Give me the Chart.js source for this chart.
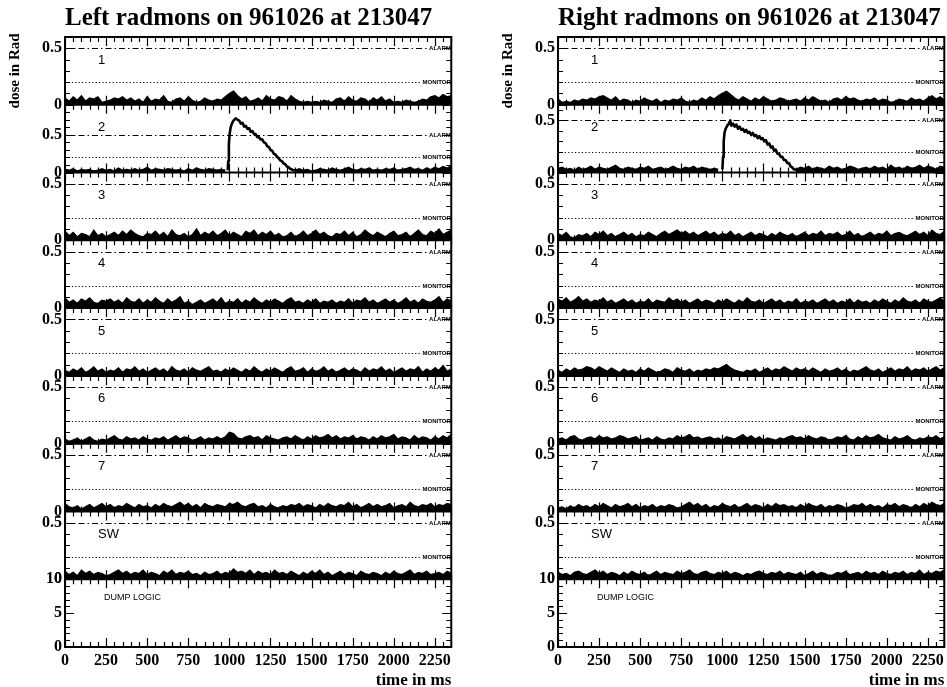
<!DOCTYPE html>
<html>
<head>
<meta charset="utf-8">
<title>Radmons 961026 213047</title>
<script src="https://cdn.jsdelivr.net/npm/chart.js@4/dist/chart.umd.min.js"></script>
<style>
  body { margin: 0; background: #fff; }
  #wrap { position: relative; width: 947px; height: 687px; overflow: hidden; }
  canvas { position: absolute; top: 0; }
</style>
</head>
<body>
<div id="wrap">
  <canvas id="leftChart" width="455" height="687" style="left:0"></canvas>
  <canvas id="rightChart" width="455" height="687" style="left:493px"></canvas>
</div>
<script>
// sample times (ms) of the radmon traces
const sampleMs = [0, 25, 50, 75, 100, 125, 150, 175, 200, 225, 250, 275, 300, 325, 350, 375, 400, 425, 450,
    475, 500, 525, 550, 575, 600, 625, 650, 675, 700, 725, 750, 775, 800, 825, 850, 875, 900, 925,
    950, 975, 1000, 1025, 1050, 1075, 1100, 1125, 1150, 1175, 1200, 1225, 1250, 1275, 1300, 1325, 1350, 1375, 1400,
    1425, 1450, 1475, 1500, 1525, 1550, 1575, 1600, 1625, 1650, 1675, 1700, 1725, 1750, 1775, 1800, 1825, 1850, 1875,
    1900, 1925, 1950, 1975, 2000, 2025, 2050, 2075, 2100, 2125, 2150, 2175, 2200, 2225, 2250, 2275, 2300, 2325, 2350];

// --- left radmons (dose in Rad) ---
const leftDose1 = [0.06, 0.03, 0.07, 0.04, 0.08, 0.03, 0.06, 0.05, 0.07, 0.02, 0.03, 0.04, 0.06, 0.05, 0.07, 0.04, 0.06, 0.03, 0.05,
    0.02, 0.07, 0.03, 0.05, 0.04, 0.08, 0.03, 0.02, 0.05, 0.06, 0.03, 0.07, 0.04, 0.02, 0.03, 0.06, 0.04, 0.03, 0.05,
    0.04, 0.07, 0.10, 0.12, 0.08, 0.05, 0.07, 0.03, 0.04, 0.06, 0.03, 0.08, 0.05, 0.04, 0.07, 0.06, 0.03, 0.08, 0.05,
    0.03, 0.02, 0.03, 0.02, 0.03, 0.02, 0.04, 0.03, 0.02, 0.05, 0.06, 0.03, 0.07, 0.04, 0.03, 0.06, 0.05, 0.02, 0.06,
    0.04, 0.07, 0.03, 0.05, 0.02, 0.03, 0.02, 0.04, 0.03, 0.02, 0.03, 0.05, 0.04, 0.07, 0.08, 0.06, 0.09, 0.07, 0.08];
const leftDose2 = [0.04, 0.03, 0.05, 0.02, 0.04, 0.03, 0.04, 0.02, 0.03, 0.05, 0.03, 0.04, 0.02, 0.06, 0.03, 0.04, 0.03, 0.05, 0.03,
    0.04, 0.07, 0.03, 0.05, 0.04, 0.03, 0.05, 0.04, 0.03, 0.04, 0.02, 0.05, 0.03, 0.06, 0.04, 0.03, 0.05, 0.04, 0.03,
    0.04, 0.03, null, null, null, null, null, null, null, null, null, null, null, null, null, null, null, null, 0.03,
    0.05, 0.03, 0.04, 0.02, 0.03, 0.05, 0.04, 0.03, 0.06, 0.04, 0.03, 0.05, 0.07, 0.04, 0.03, 0.05, 0.04, 0.06, 0.03,
    0.04, 0.03, 0.05, 0.04, 0.06, 0.03, 0.04, 0.05, 0.07, 0.04, 0.05, 0.03, 0.06, 0.04, 0.07, 0.05, 0.08, 0.06, 0.09];
const leftDose3 = [0.08, 0.04, 0.07, 0.03, 0.06, 0.05, 0.03, 0.09, 0.04, 0.06, 0.03, 0.05, 0.07, 0.04, 0.08, 0.05, 0.09, 0.06, 0.04,
    0.03, 0.06, 0.05, 0.08, 0.04, 0.07, 0.03, 0.09, 0.05, 0.04, 0.06, 0.03, 0.05, 0.10, 0.04, 0.07, 0.05, 0.08, 0.04,
    0.06, 0.09, 0.04, 0.07, 0.05, 0.03, 0.08, 0.06, 0.09, 0.04, 0.07, 0.05, 0.08, 0.04, 0.06, 0.03, 0.04, 0.07, 0.03,
    0.05, 0.08, 0.04, 0.06, 0.09, 0.05, 0.07, 0.04, 0.03, 0.06, 0.05, 0.08, 0.04, 0.07, 0.03, 0.05, 0.09, 0.06, 0.04,
    0.07, 0.05, 0.03, 0.06, 0.08, 0.04, 0.05, 0.07, 0.03, 0.06, 0.09, 0.05, 0.04, 0.08, 0.06, 0.10, 0.05, 0.07, 0.09];
const leftDose4 = [0.09, 0.05, 0.07, 0.04, 0.08, 0.06, 0.09, 0.05, 0.04, 0.07, 0.06, 0.08, 0.05, 0.07, 0.04, 0.09, 0.06, 0.05, 0.08,
    0.04, 0.07, 0.05, 0.09, 0.06, 0.04, 0.08, 0.05, 0.07, 0.10, 0.04, 0.06, 0.03, 0.05, 0.07, 0.04, 0.06, 0.08, 0.05,
    0.09, 0.04, 0.06, 0.05, 0.08, 0.04, 0.07, 0.05, 0.09, 0.06, 0.04, 0.07, 0.05, 0.08, 0.06, 0.04, 0.07, 0.09, 0.05,
    0.06, 0.04, 0.07, 0.05, 0.08, 0.04, 0.06, 0.05, 0.07, 0.04, 0.06, 0.05, 0.08, 0.04, 0.07, 0.06, 0.09, 0.05, 0.07,
    0.04, 0.06, 0.08, 0.05, 0.07, 0.04, 0.06, 0.09, 0.05, 0.07, 0.04, 0.08, 0.06, 0.05, 0.07, 0.10, 0.05, 0.08, 0.06];
const leftDose5 = [0.05, 0.03, 0.06, 0.04, 0.07, 0.03, 0.05, 0.08, 0.04, 0.06, 0.03, 0.05, 0.04, 0.07, 0.03, 0.06, 0.05, 0.08, 0.04,
    0.06, 0.03, 0.05, 0.07, 0.04, 0.06, 0.03, 0.08, 0.05, 0.04, 0.06, 0.03, 0.07, 0.05, 0.04, 0.06, 0.08, 0.04, 0.05,
    0.03, 0.06, 0.04, 0.07, 0.05, 0.03, 0.06, 0.04, 0.08, 0.05, 0.03, 0.06, 0.04, 0.07, 0.05, 0.03, 0.06, 0.08, 0.04,
    0.05, 0.07, 0.03, 0.06, 0.04, 0.05, 0.08, 0.04, 0.06, 0.03, 0.05, 0.07, 0.04, 0.06, 0.05, 0.03, 0.07, 0.04, 0.06,
    0.05, 0.08, 0.04, 0.06, 0.03, 0.05, 0.07, 0.04, 0.06, 0.05, 0.08, 0.03, 0.06, 0.04, 0.07, 0.05, 0.09, 0.04, 0.06];
const leftDose6 = [0.04, 0.02, 0.03, 0.05, 0.02, 0.04, 0.06, 0.03, 0.02, 0.04, 0.03, 0.05, 0.07, 0.04, 0.03, 0.06, 0.04, 0.05, 0.03,
    0.06, 0.04, 0.03, 0.05, 0.04, 0.06, 0.03, 0.05, 0.07, 0.04, 0.06, 0.05, 0.03, 0.04, 0.06, 0.03, 0.05, 0.04, 0.06,
    0.04, 0.06, 0.10, 0.09, 0.05, 0.04, 0.06, 0.07, 0.05, 0.06, 0.03, 0.07, 0.05, 0.04, 0.03, 0.05, 0.06, 0.04, 0.07,
    0.05, 0.03, 0.06, 0.04, 0.07, 0.05, 0.06, 0.08, 0.05, 0.07, 0.04, 0.06, 0.05, 0.07, 0.04, 0.06, 0.05, 0.03, 0.06,
    0.04, 0.07, 0.05, 0.06, 0.08, 0.04, 0.06, 0.05, 0.03, 0.07, 0.04, 0.06, 0.05, 0.03, 0.06, 0.04, 0.07, 0.05, 0.08];
const leftDose7 = [0.07, 0.04, 0.03, 0.05, 0.02, 0.04, 0.06, 0.03, 0.05, 0.07, 0.04, 0.06, 0.03, 0.05, 0.04, 0.07, 0.05, 0.03, 0.06,
    0.04, 0.05, 0.03, 0.06, 0.04, 0.07, 0.05, 0.04, 0.06, 0.08, 0.05, 0.07, 0.04, 0.06, 0.03, 0.07, 0.05, 0.04, 0.06,
    0.05, 0.04, 0.07, 0.06, 0.08, 0.05, 0.04, 0.06, 0.07, 0.04, 0.05, 0.03, 0.06, 0.04, 0.03, 0.05, 0.04, 0.06, 0.05,
    0.07, 0.04, 0.06, 0.05, 0.03, 0.06, 0.04, 0.07, 0.05, 0.04, 0.06, 0.05, 0.08, 0.04, 0.06, 0.03, 0.05, 0.07, 0.04,
    0.06, 0.04, 0.05, 0.07, 0.03, 0.05, 0.06, 0.04, 0.08, 0.05, 0.04, 0.06, 0.05, 0.07, 0.04, 0.06, 0.05, 0.07, 0.06];
const leftDoseSW = [0.07, 0.04, 0.06, 0.03, 0.08, 0.05, 0.07, 0.04, 0.06, 0.05, 0.03, 0.04, 0.06, 0.08, 0.05, 0.07, 0.04, 0.06, 0.05,
    0.08, 0.04, 0.06, 0.05, 0.03, 0.07, 0.05, 0.08, 0.04, 0.06, 0.05, 0.07, 0.04, 0.05, 0.03, 0.06, 0.04, 0.05, 0.07,
    0.04, 0.06, 0.05, 0.09, 0.06, 0.07, 0.05, 0.08, 0.04, 0.07, 0.05, 0.06, 0.04, 0.08, 0.05, 0.06, 0.04, 0.07, 0.05,
    0.03, 0.06, 0.04, 0.07, 0.05, 0.08, 0.04, 0.06, 0.03, 0.05, 0.07, 0.04, 0.06, 0.05, 0.03, 0.07, 0.05, 0.04, 0.06,
    0.05, 0.03, 0.06, 0.04, 0.07, 0.05, 0.04, 0.06, 0.08, 0.04, 0.06, 0.05, 0.07, 0.04, 0.05, 0.06, 0.04, 0.07, 0.05];
// the dose pulse seen by left radmon 2
const leftPulseMs = [990, 993, 997, 1002, 1008, 1015, 1025, 1038, 1050, 1060, 1070, 1080, 1090, 1100, 1110, 1120, 1130,
    1140, 1150, 1160, 1170, 1180, 1190, 1200, 1210, 1220, 1230, 1240, 1250, 1260, 1270, 1280, 1290, 1300, 1310,
    1320, 1330, 1340, 1350, 1360, 1370, 1380, 1390, 1400];
const leftPulse = [0.03, 0.15, 0.38, 0.52, 0.60, 0.65, 0.69, 0.72, 0.70, 0.69, 0.65, 0.66, 0.61, 0.62, 0.58, 0.59, 0.54,
    0.55, 0.51, 0.51, 0.47, 0.47, 0.44, 0.44, 0.40, 0.39, 0.35, 0.34, 0.30, 0.29, 0.25, 0.24, 0.21, 0.19, 0.16,
    0.15, 0.12, 0.11, 0.08, 0.07, 0.05, 0.04, 0.03, 0.03];

// --- right radmons (dose in Rad) ---
const rightDose1 = [0.05, 0.02, 0.03, 0.02, 0.04, 0.03, 0.05, 0.04, 0.06, 0.05, 0.07, 0.08, 0.06, 0.04, 0.07, 0.03, 0.05, 0.04, 0.02,
    0.04, 0.03, 0.06, 0.04, 0.03, 0.05, 0.02, 0.04, 0.03, 0.05, 0.04, 0.06, 0.03, 0.02, 0.04, 0.03, 0.06, 0.04, 0.07,
    0.05, 0.08, 0.10, 0.12, 0.09, 0.06, 0.04, 0.07, 0.05, 0.03, 0.06, 0.04, 0.07, 0.05, 0.03, 0.04, 0.06, 0.05, 0.03,
    0.04, 0.05, 0.03, 0.06, 0.04, 0.07, 0.05, 0.03, 0.04, 0.02, 0.05, 0.06, 0.04, 0.07, 0.05, 0.06, 0.04, 0.03, 0.05,
    0.04, 0.06, 0.03, 0.05, 0.04, 0.02, 0.03, 0.05, 0.04, 0.03, 0.06, 0.04, 0.05, 0.03, 0.06, 0.08, 0.05, 0.07, 0.04];
const rightDose2 = [0.04, 0.05, 0.03, 0.04, 0.02, 0.05, 0.03, 0.04, 0.06, 0.03, 0.05, 0.04, 0.03, 0.05, 0.07, 0.04, 0.03, 0.05, 0.04,
    0.03, 0.05, 0.04, 0.06, 0.03, 0.04, 0.05, 0.03, 0.04, 0.06, 0.04, 0.03, 0.05, 0.04, 0.06, 0.03, 0.05, 0.04, 0.03,
    0.04, 0.03, null, null, null, null, null, null, null, null, null, null, null, null, null, null, null, null, null, null,
    0.03, 0.05, 0.04, 0.06, 0.03, 0.05, 0.04, 0.03, 0.06, 0.04, 0.05, 0.03, 0.04, 0.06, 0.05, 0.03, 0.04, 0.05,
    0.03, 0.06, 0.04, 0.05, 0.03, 0.07, 0.04, 0.05, 0.03, 0.06, 0.04, 0.05, 0.07, 0.04, 0.06, 0.05, 0.03, 0.06, 0.05];
const rightDose3 = [0.06, 0.04, 0.07, 0.03, 0.02, 0.05, 0.04, 0.06, 0.03, 0.07, 0.05, 0.08, 0.04, 0.06, 0.03, 0.05, 0.07, 0.04, 0.06,
    0.03, 0.05, 0.04, 0.07, 0.05, 0.03, 0.06, 0.08, 0.05, 0.07, 0.09, 0.06, 0.08, 0.05, 0.07, 0.04, 0.06, 0.08, 0.05,
    0.07, 0.04, 0.06, 0.05, 0.08, 0.04, 0.06, 0.03, 0.05, 0.07, 0.04, 0.06, 0.05, 0.03, 0.06, 0.04, 0.07, 0.05, 0.04,
    0.06, 0.03, 0.05, 0.07, 0.04, 0.06, 0.05, 0.08, 0.04, 0.06, 0.05, 0.07, 0.04, 0.05, 0.08, 0.04, 0.06, 0.03, 0.05,
    0.07, 0.04, 0.06, 0.05, 0.08, 0.04, 0.06, 0.07, 0.05, 0.04, 0.06, 0.08, 0.05, 0.07, 0.04, 0.09, 0.06, 0.05, 0.08];
const rightDose4 = [0.08, 0.06, 0.09, 0.05, 0.07, 0.10, 0.06, 0.08, 0.05, 0.07, 0.06, 0.09, 0.05, 0.07, 0.04, 0.06, 0.08, 0.05, 0.07,
    0.04, 0.06, 0.05, 0.08, 0.04, 0.07, 0.06, 0.05, 0.09, 0.06, 0.08, 0.05, 0.07, 0.04, 0.06, 0.08, 0.05, 0.07, 0.06,
    0.04, 0.07, 0.05, 0.08, 0.06, 0.04, 0.07, 0.05, 0.09, 0.06, 0.05, 0.07, 0.04, 0.06, 0.08, 0.05, 0.07, 0.04, 0.06,
    0.05, 0.08, 0.04, 0.06, 0.05, 0.07, 0.04, 0.06, 0.08, 0.05, 0.07, 0.04, 0.06, 0.05, 0.08, 0.04, 0.07, 0.05, 0.06,
    0.04, 0.07, 0.05, 0.08, 0.06, 0.04, 0.07, 0.05, 0.09, 0.06, 0.05, 0.07, 0.04, 0.08, 0.06, 0.05, 0.07, 0.09, 0.06];
const rightDose5 = [0.05, 0.03, 0.06, 0.04, 0.07, 0.05, 0.06, 0.08, 0.07, 0.05, 0.08, 0.06, 0.04, 0.07, 0.05, 0.03, 0.06, 0.04, 0.05,
    0.03, 0.06, 0.04, 0.07, 0.05, 0.03, 0.04, 0.06, 0.05, 0.03, 0.07, 0.05, 0.04, 0.06, 0.03, 0.05, 0.04, 0.06, 0.05,
    0.07, 0.06, 0.08, 0.10, 0.07, 0.05, 0.04, 0.03, 0.05, 0.04, 0.06, 0.03, 0.05, 0.07, 0.04, 0.06, 0.05, 0.08, 0.06,
    0.04, 0.07, 0.05, 0.06, 0.04, 0.07, 0.05, 0.03, 0.06, 0.04, 0.05, 0.07, 0.04, 0.06, 0.03, 0.05, 0.04, 0.06, 0.08,
    0.05, 0.04, 0.06, 0.03, 0.05, 0.07, 0.04, 0.06, 0.05, 0.08, 0.04, 0.06, 0.05, 0.07, 0.04, 0.06, 0.08, 0.05, 0.07];
const rightDose6 = [0.04, 0.05, 0.03, 0.06, 0.07, 0.04, 0.03, 0.05, 0.06, 0.04, 0.07, 0.05, 0.06, 0.04, 0.05, 0.07, 0.06, 0.04, 0.05,
    0.06, 0.03, 0.04, 0.05, 0.03, 0.06, 0.04, 0.03, 0.05, 0.04, 0.07, 0.05, 0.06, 0.08, 0.05, 0.06, 0.04, 0.05, 0.06,
    0.04, 0.05, 0.03, 0.06, 0.05, 0.04, 0.06, 0.08, 0.05, 0.07, 0.04, 0.06, 0.03, 0.05, 0.04, 0.03, 0.05, 0.04, 0.06,
    0.07, 0.05, 0.06, 0.04, 0.07, 0.05, 0.04, 0.06, 0.05, 0.03, 0.04, 0.06, 0.05, 0.07, 0.04, 0.03, 0.06, 0.04, 0.07,
    0.05, 0.06, 0.08, 0.05, 0.04, 0.03, 0.06, 0.04, 0.05, 0.07, 0.04, 0.03, 0.05, 0.04, 0.06, 0.05, 0.07, 0.04, 0.06];
const rightDose7 = [0.03, 0.04, 0.02, 0.05, 0.03, 0.06, 0.04, 0.05, 0.03, 0.06, 0.04, 0.07, 0.05, 0.03, 0.06, 0.04, 0.05, 0.07, 0.04,
    0.06, 0.03, 0.05, 0.04, 0.06, 0.03, 0.05, 0.04, 0.06, 0.05, 0.03, 0.04, 0.06, 0.08, 0.05, 0.07, 0.04, 0.06, 0.03,
    0.05, 0.04, 0.07, 0.05, 0.04, 0.06, 0.03, 0.05, 0.07, 0.04, 0.06, 0.05, 0.03, 0.06, 0.04, 0.07, 0.05, 0.06, 0.04,
    0.05, 0.03, 0.06, 0.04, 0.07, 0.05, 0.04, 0.06, 0.03, 0.05, 0.04, 0.06, 0.05, 0.03, 0.04, 0.06, 0.05, 0.07, 0.04,
    0.06, 0.04, 0.05, 0.03, 0.06, 0.05, 0.07, 0.04, 0.06, 0.05, 0.03, 0.06, 0.04, 0.07, 0.05, 0.08, 0.06, 0.05, 0.07];
const rightDoseSW = [0.06, 0.04, 0.05, 0.03, 0.06, 0.07, 0.05, 0.04, 0.06, 0.08, 0.05, 0.07, 0.04, 0.06, 0.05, 0.03, 0.06, 0.04, 0.07,
    0.05, 0.04, 0.06, 0.03, 0.05, 0.07, 0.04, 0.06, 0.05, 0.04, 0.07, 0.05, 0.06, 0.08, 0.05, 0.04, 0.06, 0.07, 0.05,
    0.04, 0.06, 0.05, 0.07, 0.04, 0.06, 0.05, 0.03, 0.05, 0.04, 0.06, 0.07, 0.05, 0.04, 0.06, 0.05, 0.07, 0.04, 0.06,
    0.05, 0.04, 0.06, 0.03, 0.05, 0.07, 0.04, 0.06, 0.05, 0.03, 0.04, 0.06, 0.05, 0.07, 0.04, 0.05, 0.06, 0.04, 0.07,
    0.05, 0.06, 0.04, 0.07, 0.05, 0.04, 0.06, 0.05, 0.07, 0.04, 0.06, 0.05, 0.08, 0.04, 0.06, 0.05, 0.07, 0.06, 0.08];
// the dose pulse seen by right radmon 2
const rightPulseMs = [1000, 1004, 1008, 1013, 1020, 1030, 1040, 1048, 1055, 1065, 1075, 1085, 1095, 1105, 1115, 1125,
    1135, 1145, 1155, 1165, 1175, 1185, 1195, 1205, 1215, 1225, 1235, 1245, 1255, 1265, 1275, 1285, 1295, 1305,
    1315, 1325, 1335, 1345, 1355, 1365, 1375, 1385, 1395, 1405, 1415, 1425, 1435, 1445, 1455];
const rightPulse = [0.03, 0.15, 0.30, 0.38, 0.42, 0.45, 0.47, 0.50, 0.45, 0.47, 0.44, 0.46, 0.42, 0.44, 0.41, 0.42,
    0.39, 0.41, 0.38, 0.39, 0.36, 0.38, 0.35, 0.36, 0.33, 0.35, 0.32, 0.33, 0.30, 0.31, 0.27, 0.28, 0.24, 0.25,
    0.21, 0.22, 0.18, 0.18, 0.15, 0.15, 0.12, 0.12, 0.09, 0.09, 0.06, 0.05, 0.03, 0.03, 0.02];

// dump logic stays at zero on both sides
const dumpLogicMs = [0, 2350];
const leftDumpLogic = [0, 0];
const rightDumpLogic = [0, 0];

const panelNames = ['1', '2', '3', '4', '5', '6', '7', 'SW', 'DUMP LOGIC'];
const leftPanelMax = [0.6, 0.9, 0.6, 0.6, 0.6, 0.6, 0.6, 0.6, 10];
const rightPanelMax = [0.6, 0.65, 0.6, 0.6, 0.6, 0.6, 0.6, 0.6, 10];
const doseTickLabels = [0, 0.5];
const dumpTickLabels = [0, 5, 10];
const timeTickLabels = [0, 250, 500, 750, 1000, 1250, 1500, 1750, 2000, 2250];
const timeMax = 2350;
const alarmLevel = 0.5;
const monitorLevel = 0.2;

Chart.defaults.font.family = "'Liberation Serif', 'Times New Roman', serif";
Chart.defaults.color = '#000';

function toPoints(times, values) {
    return times.map((t, k) => ({ x: t, y: values[k] }));
}

// frame, inward ticks, alarm/monitor levels and panel names
function radmonDecor(panelMax) {
    return {
        id: 'radmonDecor',
        afterDatasetsDraw(chart) {
            const { ctx, chartArea: area, scales } = chart;
            const xs = scales.x;
            const last = panelMax.length - 1;
            ctx.save();
            ctx.strokeStyle = '#000';
            ctx.fillStyle = '#000';

            panelMax.forEach((max, i) => {
                const ys = scales['y' + i];
                const isDump = i === last;

                // ticks
                ctx.setLineDash([]);
                ctx.lineWidth = 1.2;
                ctx.beginPath();
                for (let t = 0; t <= timeMax; t += 50) {
                    const px = Math.round(xs.getPixelForValue(t)) + 0.5;
                    const len = t % 250 === 0 ? 9 : 5;
                    ctx.moveTo(px, ys.top); ctx.lineTo(px, ys.top + len);
                    ctx.moveTo(px, ys.bottom); ctx.lineTo(px, ys.bottom - len);
                }
                const step = isDump ? 1 : 0.1;
                const majors = isDump ? dumpTickLabels : doseTickLabels;
                for (let k = 0; k * step <= max + 1e-9; k++) {
                    const v = k * step;
                    const py = Math.round(ys.getPixelForValue(v)) + 0.5;
                    const len = majors.some(m => Math.abs(m - v) < 1e-6) ? 9 : 5;
                    ctx.moveTo(area.left, py); ctx.lineTo(area.left + len, py);
                    ctx.moveTo(area.right, py); ctx.lineTo(area.right - len, py);
                }
                ctx.stroke();

                // alarm and monitor thresholds
                if (!isDump) {
                    ctx.font = 'bold 6px "Liberation Sans", sans-serif';
                    ctx.textAlign = 'right';
                    ctx.textBaseline = 'alphabetic';
                    [[alarmLevel, 'ALARM', [6, 3, 1.5, 3]], [monitorLevel, 'MONITOR', [1.2, 2.2]]].forEach(([level, text, dash]) => {
                        const py = Math.round(ys.getPixelForValue(level)) + 0.5;
                        const end = area.right - ctx.measureText(text).width - 1;
                        ctx.setLineDash(dash);
                        ctx.lineWidth = 1;
                        ctx.beginPath();
                        ctx.moveTo(area.left, py);
                        ctx.lineTo(end, py);
                        ctx.stroke();
                        ctx.setLineDash([]);
                        ctx.fillText(text, area.right - 0.5, py + 1);
                    });
                }

                // panel name
                ctx.font = isDump ? '9px "Liberation Sans", sans-serif' : '13px "Liberation Sans", sans-serif';
                ctx.textAlign = 'left';
                ctx.textBaseline = 'middle';
                ctx.fillText(panelNames[i], area.left + (isDump ? 39 : 33), ys.top + (isDump ? 18 : 23));

                // separator between panels
                if (i < last) {
                    ctx.lineWidth = 2;
                    ctx.beginPath();
                    ctx.moveTo(area.left, ys.bottom);
                    ctx.lineTo(area.right, ys.bottom);
                    ctx.stroke();
                }
            });

            ctx.lineWidth = 2;
            ctx.strokeRect(area.left, area.top, area.right - area.left, area.bottom - area.top);
            ctx.restore();
        }
    };
}

function makeRadmonChart(canvasId, titleText, doseTraces, pulseMs, pulseValues, dumpValues, panelMax) {
    const datasets = doseTraces.map((values, i) => ({
        data: toPoints(sampleMs, values),
        yAxisID: 'y' + i,
        fill: 'origin',
        backgroundColor: '#000',
        borderColor: '#000',
        borderWidth: 1.4,
        pointRadius: 0,
        spanGaps: false
    }));
    datasets.push({
        data: toPoints(pulseMs, pulseValues),
        yAxisID: 'y1',
        fill: false,
        borderColor: '#000',
        borderWidth: 2.6,
        borderJoinStyle: 'round',
        pointRadius: 0
    });
    datasets.push({
        data: toPoints(dumpLogicMs, dumpValues),
        yAxisID: 'y' + (panelMax.length - 1),
        fill: false,
        borderColor: '#000',
        borderWidth: 1.5,
        pointRadius: 0
    });

    const scales = {
        x: {
            type: 'linear',
            position: 'bottom',
            min: 0,
            max: timeMax,
            grid: { display: false, drawTicks: false },
            border: { display: false },
            afterBuildTicks: s => { s.ticks = timeTickLabels.map(v => ({ value: v })); },
            afterFit: s => { s.height = 40; },
            ticks: { padding: 4, maxRotation: 0, autoSkip: false, font: { size: 16, weight: 'bold' }, callback: v => String(v) },
            title: {
                display: true,
                text: 'time in ms',
                align: 'end',
                padding: { top: 0, bottom: 0 },
                font: { size: 17, weight: 'bold', lineHeight: 0.8 }
            }
        }
    };
    panelMax.forEach((max, i) => {
        const isDump = i === panelMax.length - 1;
        scales['y' + i] = {
            type: 'linear',
            position: 'left',
            stack: 'radmons',
            stackWeight: 1,
            weight: 20 - i,
            offset: false,
            min: 0,
            max: max,
            grid: { display: false, drawTicks: false },
            border: { display: false },
            afterBuildTicks: s => { s.ticks = (isDump ? dumpTickLabels : doseTickLabels).map(v => ({ value: v })); },
            afterFit: s => { s.width = 63; },
            ticks: { padding: 3, autoSkip: false, font: { size: 16, weight: 'bold' }, callback: v => String(v) },
            title: {
                display: i === 0,
                text: 'dose in Rad',
                font: { size: 15, weight: 'bold' }
            }
        };
    });

    new Chart(document.getElementById(canvasId), {
        type: 'line',
        data: { datasets },
        options: {
            responsive: false,
            animation: false,
            devicePixelRatio: 1,
            layout: { padding: { left: 2, right: 2, top: 0, bottom: 0 } },
            scales,
            plugins: {
                legend: { display: false },
                tooltip: { enabled: false },
                title: {
                    display: true,
                    text: titleText,
                    align: 'start',
                    fullSize: false,
                    padding: { top: 4, bottom: 3 },
                    font: { size: 25, weight: 'bold' }
                }
            }
        },
        plugins: [radmonDecor(panelMax)]
    });
}

document.addEventListener('DOMContentLoaded', function () {
    makeRadmonChart('leftChart', 'Left radmons on 961026 at 213047',
        [leftDose1, leftDose2, leftDose3, leftDose4, leftDose5, leftDose6, leftDose7, leftDoseSW],
        leftPulseMs, leftPulse, leftDumpLogic, leftPanelMax);
    makeRadmonChart('rightChart', 'Right radmons on 961026 at 213047',
        [rightDose1, rightDose2, rightDose3, rightDose4, rightDose5, rightDose6, rightDose7, rightDoseSW],
        rightPulseMs, rightPulse, rightDumpLogic, rightPanelMax);
});
</script>
</body>
</html>
